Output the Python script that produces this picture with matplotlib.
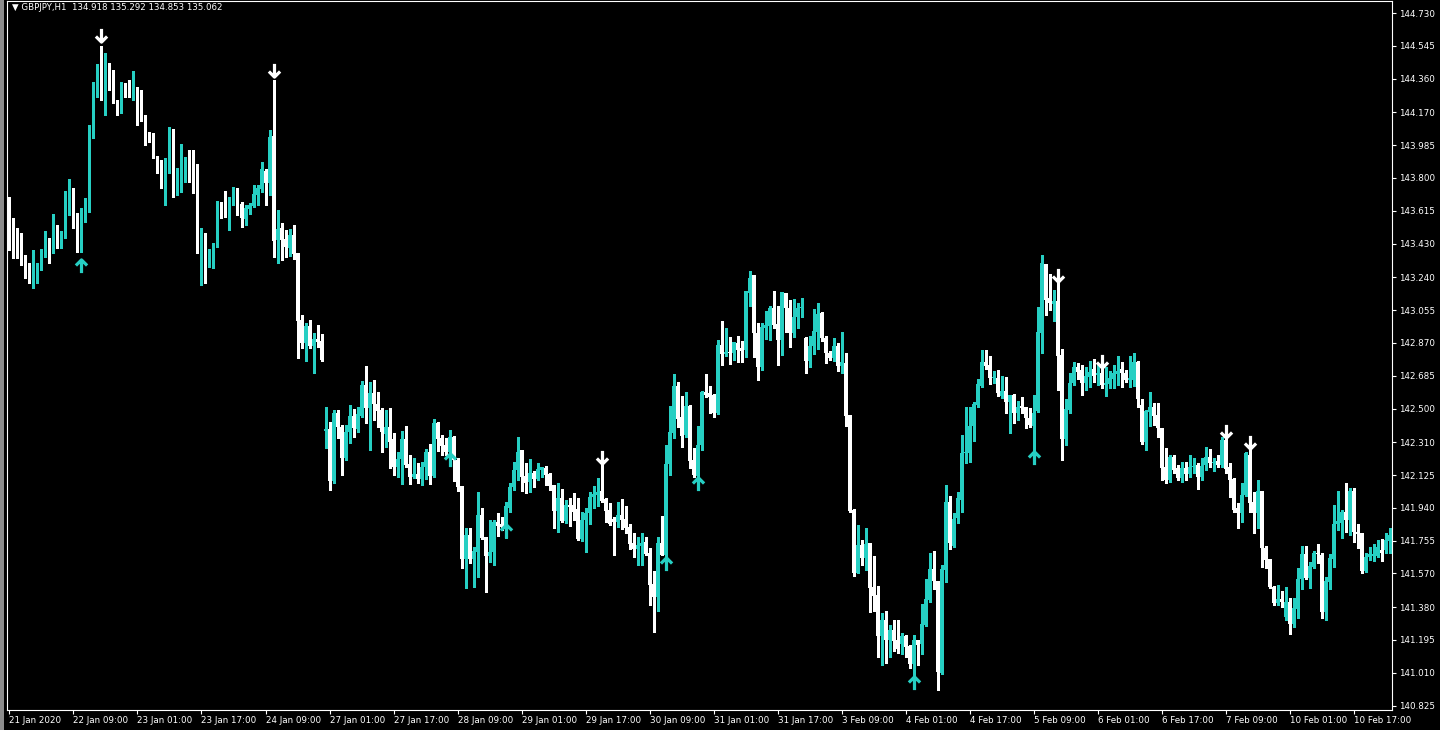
import matplotlib
matplotlib.use('Agg')
import matplotlib.pyplot as plt
from matplotlib.path import Path
from matplotlib.patches import Rectangle
import numpy as np

header_text = "GBPJPY,H1  134.918 135.292 134.853 135.062"

opens = [
143.648,143.496,143.439,143.383,143.327,143.264,143.225,143.281,143.304,143.371,
143.405,143.388,143.518,143.433,143.473,143.676,143.744,143.603,143.535,143.609,
143.631,144.026,144.285,144.364,144.223,144.421,144.370,144.229,144.173,144.314,
144.296,144.257,144.290,144.229,144.133,144.026,144.020,143.924,143.891,143.783,
143.896,144.076,143.772,143.822,143.874,143.891,143.811,143.778,143.473,143.484,
143.343,143.355,143.427,143.653,143.648,143.581,143.676,143.732,143.653,143.569,
143.625,143.642,143.704,143.738,143.839,143.772,144.037,143.450,143.518,143.456,
143.405,143.479,143.377,142.999,142.869,142.965,142.852,142.892,142.880,142.373,
142.384,142.091,142.475,142.396,142.221,142.368,142.458,142.384,142.458,142.633,
142.503,142.587,142.525,142.492,142.356,142.396,142.328,142.171,142.215,142.328,
142.187,142.114,142.130,142.102,142.171,142.255,142.119,142.418,142.334,142.294,
142.255,142.340,142.210,142.063,141.651,141.787,141.651,141.691,141.900,141.776,
141.668,141.691,141.860,141.848,141.832,141.939,142.058,142.153,142.266,142.119,
142.086,142.136,142.102,142.153,142.165,142.130,142.069,141.922,141.995,141.865,
141.956,141.956,141.933,141.764,141.871,141.911,142.001,142.012,142.034,141.989,
141.928,141.877,141.860,141.900,141.877,141.832,141.741,141.707,141.724,141.747,
141.685,141.510,141.437,141.741,141.674,142.187,142.362,142.627,142.453,142.351,
142.514,142.210,142.119,142.294,142.593,142.587,142.576,142.475,142.858,142.807,
142.819,142.813,142.869,142.841,142.830,143.151,143.253,142.926,142.735,142.954,
142.965,143.067,142.976,142.886,143.151,143.067,142.926,143.017,143.067,142.898,
142.768,142.852,142.932,143.039,142.898,142.813,142.785,142.852,142.740,142.757,
142.464,141.928,141.572,141.730,141.657,141.741,141.494,141.448,141.217,141.307,
141.194,141.251,141.194,141.171,141.217,141.160,141.059,141.194,141.171,141.279,
141.420,141.595,141.527,141.008,141.589,141.973,141.724,141.883,141.984,142.249,
142.249,142.401,142.520,142.627,142.763,142.746,142.672,142.672,142.570,142.598,
142.537,142.576,142.475,142.514,142.509,142.447,142.401,142.486,142.926,143.315,
143.123,143.089,143.106,142.802,142.328,142.492,142.644,142.735,142.717,142.644,
142.678,142.723,142.689,142.700,142.633,142.638,142.666,142.694,142.723,142.700,
142.661,142.661,142.763,142.520,142.311,142.481,142.509,142.464,142.390,142.171,
142.097,142.227,142.165,142.108,142.165,142.130,142.171,142.182,142.114,142.182,
142.227,142.193,142.204,142.182,142.322,142.171,142.102,141.939,141.911,142.012,
142.238,141.973,141.911,142.034,141.713,141.651,141.494,141.403,141.425,141.325,
141.409,141.284,141.369,141.538,141.679,141.544,141.607,141.685,141.674,141.353,
141.522,141.651,141.848,141.854,141.917,141.871,142.034,141.804,141.798,141.583,
141.663,141.668,141.668,141.702,141.702,141.752]

closes = [
143.496,143.433,143.383,143.327,143.264,143.225,143.281,143.304,143.371,143.405,
143.388,143.518,143.433,143.473,143.676,143.744,143.603,143.535,143.609,143.631,
144.026,144.285,144.364,144.240,144.421,144.370,144.229,144.173,144.314,144.296,
144.268,144.290,144.223,144.127,144.026,144.014,143.919,143.891,143.783,143.896,
144.076,143.772,143.822,143.874,143.891,143.806,143.772,143.473,143.490,143.343,
143.360,143.433,143.653,143.637,143.581,143.676,143.726,143.648,143.575,143.631,
143.648,143.709,143.744,143.851,143.772,144.032,143.444,143.512,143.450,143.411,
143.479,143.371,142.993,142.869,142.965,142.852,142.892,142.875,142.774,142.384,
142.091,142.475,142.396,142.221,142.368,142.458,142.390,142.469,142.633,142.503,
142.587,142.525,142.486,142.368,142.396,142.311,142.171,142.215,142.328,142.182,
142.114,142.130,142.102,142.171,142.255,142.119,142.418,142.328,142.288,142.255,
142.340,142.210,142.058,141.651,141.787,141.651,141.696,141.900,141.770,141.668,
141.691,141.860,141.837,141.832,141.950,142.058,142.153,142.255,142.114,142.080,
142.136,142.102,142.159,142.171,142.125,142.063,141.922,141.995,141.865,141.956,
141.945,141.917,141.764,141.871,141.911,142.001,142.017,142.029,141.978,141.922,
141.848,141.860,141.900,141.871,141.826,141.735,141.707,141.730,141.741,141.679,
141.505,141.437,141.741,141.674,142.187,142.368,142.627,142.441,142.345,142.514,
142.204,142.125,142.294,142.593,142.576,142.565,142.475,142.858,142.807,142.819,
142.813,142.875,142.830,142.824,143.162,143.236,142.926,142.735,142.960,142.971,
143.067,142.971,142.886,143.157,143.067,142.926,143.017,143.067,143.073,142.768,
142.852,142.937,143.033,142.898,142.813,142.785,142.852,142.740,142.763,142.458,
141.922,141.572,141.730,141.657,141.735,141.488,141.442,141.217,141.307,141.194,
141.251,141.188,141.143,141.217,141.155,141.059,141.194,141.166,141.284,141.425,
141.595,141.527,141.014,141.595,141.973,141.741,141.877,141.995,142.249,142.255,
142.401,142.525,142.638,142.763,142.740,142.672,142.678,142.587,142.598,142.537,
142.576,142.475,142.509,142.503,142.447,142.407,142.475,142.932,143.321,143.112,
143.095,143.106,142.796,142.328,142.497,142.644,142.735,142.706,142.644,142.683,
142.706,142.683,142.700,142.633,142.644,142.672,142.700,142.711,142.700,142.661,
142.672,142.763,142.553,142.311,142.486,142.509,142.458,142.390,142.165,142.097,
142.227,142.153,142.108,142.165,142.130,142.171,142.176,142.114,142.176,142.227,
142.193,142.199,142.182,142.322,142.159,142.097,141.928,141.911,142.012,142.249,
141.967,141.911,142.034,141.713,141.646,141.494,141.403,141.425,141.409,141.409,
141.284,141.375,141.538,141.679,141.544,141.612,141.685,141.679,141.353,141.527,
141.657,141.848,141.865,141.917,141.871,142.034,141.804,141.792,141.583,141.663,
141.679,141.679,141.719,141.685,141.758,141.787]

highs = [
143.693,143.575,143.518,143.490,143.366,143.321,143.394,143.321,143.399,143.501,
143.462,143.597,143.535,143.501,143.726,143.794,143.744,143.603,143.631,143.687,
144.099,144.342,144.443,144.544,144.505,144.449,144.409,144.240,144.342,144.336,
144.353,144.403,144.314,144.296,144.156,144.060,144.054,143.924,143.902,143.913,
144.088,144.076,143.857,143.991,143.919,143.958,143.958,143.879,143.518,143.490,
143.399,143.433,143.670,143.665,143.726,143.693,143.750,143.744,143.665,143.648,
143.659,143.761,143.761,143.891,143.851,144.071,144.353,143.620,143.546,143.507,
143.512,143.535,143.377,143.028,142.982,142.999,142.926,142.971,142.920,142.509,
142.424,142.492,142.492,142.407,142.407,142.520,142.497,142.509,142.655,142.740,
142.650,142.661,142.593,142.503,142.492,142.503,142.362,142.255,142.373,142.401,
142.238,142.221,142.193,142.199,142.271,142.299,142.441,142.424,142.351,142.334,
142.379,142.345,142.221,142.063,141.826,141.826,141.719,142.029,141.939,141.776,
141.871,141.871,141.911,141.889,141.973,142.080,142.199,142.340,142.266,142.193,
142.215,142.147,142.193,142.171,142.176,142.136,142.069,142.080,142.046,141.984,
141.995,142.023,141.995,141.917,141.939,142.029,142.063,142.108,142.193,141.995,
141.967,141.889,141.973,141.989,141.950,141.848,141.798,141.776,141.798,141.776,
141.713,141.583,141.776,141.894,142.294,142.514,142.694,142.650,142.570,142.593,
142.520,142.277,142.401,142.598,142.694,142.627,142.581,142.886,142.993,142.954,
142.904,142.875,142.909,142.880,143.162,143.275,143.253,142.982,142.982,143.050,
143.078,143.162,143.078,143.157,143.151,143.112,143.117,143.095,143.123,142.904,
142.909,143.061,143.095,143.045,142.909,142.824,142.898,142.869,142.932,142.813,
142.464,141.933,141.843,141.758,141.826,141.741,141.668,141.499,141.347,141.358,
141.279,141.307,141.307,141.234,141.223,141.166,141.223,141.194,141.397,141.538,
141.685,141.696,141.527,141.618,142.069,142.006,141.911,142.029,142.351,142.509,
142.509,142.537,142.666,142.830,142.830,142.796,142.711,142.717,142.683,142.678,
142.576,142.581,142.542,142.565,142.509,142.503,142.576,143.073,143.366,143.315,
143.258,143.168,143.208,142.835,142.553,142.700,142.763,142.757,142.746,142.735,
142.768,142.779,142.757,142.729,142.735,142.711,142.746,142.796,142.763,142.717,
142.796,142.813,142.768,142.553,142.492,142.593,142.531,142.531,142.390,142.277,
142.238,142.238,142.182,142.199,142.199,142.238,142.221,142.193,142.221,142.283,
142.271,142.221,142.238,142.340,142.379,142.193,142.108,141.967,142.080,142.255,
142.277,142.029,142.097,142.034,141.724,141.651,141.499,141.505,141.470,141.494,
141.431,141.431,141.601,141.724,141.724,141.635,141.696,141.735,141.685,141.550,
141.679,141.956,142.034,141.928,142.080,142.052,142.052,141.848,141.798,141.685,
141.719,141.735,141.758,141.764,141.798,141.826]

lows = [
143.394,143.349,143.349,143.310,143.236,143.208,143.180,143.208,143.281,143.355,
143.321,143.377,143.405,143.405,143.462,143.592,143.518,143.383,143.383,143.552,
143.609,144.026,144.257,144.240,144.156,144.296,144.223,144.156,144.167,144.257,
144.257,144.240,144.099,144.121,143.986,144.003,143.913,143.828,143.744,143.648,
143.828,143.693,143.704,143.721,143.778,143.778,143.715,143.377,143.197,143.208,
143.299,143.293,143.411,143.575,143.581,143.507,143.648,143.592,143.524,143.535,
143.597,143.637,143.648,143.721,143.648,143.704,143.355,143.321,143.338,143.355,
143.360,143.343,142.785,142.841,142.768,142.841,142.700,142.847,142.768,142.277,
142.040,142.080,142.334,142.125,142.210,142.305,142.340,142.368,142.453,142.418,
142.266,142.435,142.396,142.255,142.283,142.165,142.125,142.114,142.074,142.171,
142.074,142.108,142.080,142.069,142.102,142.074,142.114,142.260,142.238,142.238,
142.238,142.091,142.034,141.601,141.488,141.629,141.494,141.550,141.764,141.465,
141.635,141.618,141.781,141.815,141.770,141.917,142.040,142.097,142.034,142.023,
142.029,142.058,142.097,142.114,142.069,142.040,141.826,141.804,141.860,141.854,
141.837,141.871,141.758,141.752,141.691,141.848,141.939,141.950,141.973,141.860,
141.843,141.674,141.832,141.820,141.798,141.707,141.663,141.618,141.618,141.674,
141.392,141.240,141.358,141.674,141.668,142.125,142.334,142.396,142.283,142.340,
142.165,142.114,142.119,142.266,142.565,142.475,142.453,142.469,142.746,142.796,
142.751,142.774,142.763,142.763,142.791,143.078,142.791,142.661,142.717,142.892,
142.886,142.954,142.746,142.802,142.932,142.847,142.904,142.954,143.017,142.700,
142.735,142.807,142.835,142.880,142.757,142.774,142.768,142.711,142.700,142.401,
141.917,141.555,141.572,141.618,141.589,141.353,141.358,141.099,141.054,141.065,
141.099,141.132,141.121,141.115,141.099,141.037,140.986,141.054,141.115,141.273,
141.409,141.482,140.912,141.002,141.522,141.707,141.719,141.854,141.917,142.193,
142.199,142.316,142.509,142.622,142.723,142.638,142.644,142.570,142.559,142.475,
142.362,142.418,142.435,142.475,142.390,142.396,142.255,142.481,142.813,143.028,
143.056,142.993,142.604,142.210,142.294,142.475,142.633,142.666,142.576,142.604,
142.622,142.650,142.633,142.616,142.570,142.616,142.616,142.633,142.622,142.650,
142.622,142.627,142.509,142.299,142.266,142.401,142.407,142.340,142.097,142.080,
142.086,142.136,142.097,142.086,142.097,142.114,142.136,142.046,142.097,142.153,
142.171,142.147,142.171,142.171,142.136,142.001,141.917,141.826,141.860,142.006,
141.917,141.798,141.826,141.607,141.601,141.488,141.392,141.392,141.381,141.307,
141.228,141.268,141.319,141.482,141.538,141.488,141.601,141.629,141.319,141.307,
141.482,141.607,141.815,141.770,141.804,141.787,141.747,141.713,141.572,141.578,
141.646,141.640,141.663,141.640,141.685,141.685]

down_arrow_bars = [23, 66, 148, 262, 273, 304, 310]
down_arrow_prices = [144.607, 144.409, 142.227, 143.253, 142.768, 142.373, 142.311]
up_arrow_bars = [18, 110, 124, 164, 172, 226, 256]
up_arrow_prices = [143.304, 142.210, 141.809, 141.623, 142.074, 140.952, 142.221]

price_ticks = [144.730, 144.545, 144.360, 144.170, 143.985, 143.800, 143.615, 143.430,
               143.240, 143.055, 142.870, 142.685, 142.500, 142.310, 142.125, 141.940,
               141.755, 141.570, 141.380, 141.195, 141.010, 140.825]

time_tick_bars = [0, 16, 32, 48, 64, 80, 96, 112, 128, 144, 160, 176, 192, 208,
                  224, 240, 256, 272, 288, 304, 320, 336]
time_tick_labels = ["21 Jan 2020", "22 Jan 09:00", "23 Jan 01:00", "23 Jan 17:00",
                    "24 Jan 09:00", "27 Jan 01:00", "27 Jan 17:00", "28 Jan 09:00",
                    "29 Jan 01:00", "29 Jan 17:00", "30 Jan 09:00", "31 Jan 01:00",
                    "31 Jan 17:00", "3 Feb 09:00", "4 Feb 01:00", "4 Feb 17:00",
                    "5 Feb 09:00", "6 Feb 01:00", "6 Feb 17:00", "7 Feb 09:00",
                    "10 Feb 01:00", "10 Feb 17:00"]

BULL = '#26CFC3'
BEAR = '#FFFFFF'
BG = '#000000'
FG = '#FFFFFF'

W, H = 1440, 730
fig = plt.figure(figsize=(W / 100, H / 100), dpi=100, facecolor=BG)
# window edge strip on the far left
fig.patches.append(Rectangle((0, 0), 4 / W, 1, transform=fig.transFigure,
                             facecolor='#8c8c8c', edgecolor='none', zorder=0))
ax = fig.add_axes([7 / W, 20 / H, 1385 / W, 709 / H])
ax.set_facecolor(BG)

o = np.array(opens)
c = np.array(closes)
hi = np.array(highs)
lo = np.array(lows)
x = np.arange(len(c))
bull = c > o
colors = np.where(bull, BULL, BEAR)

ax.vlines(x, lo, hi, colors=colors, linewidth=0.9, antialiased=False, zorder=2)
body_bottom = np.minimum(o, c)
body_height = np.maximum(np.abs(c - o), 0.0055)
ax.bar(x, body_height, width=0.78, bottom=body_bottom, color=colors,
       linewidth=0, antialiased=False, zorder=3)

down_path = Path([(0, 1), (0, -1), (-0.85, -0.15), (0, -1), (0.85, -0.15)],
                 [Path.MOVETO, Path.LINETO, Path.MOVETO, Path.LINETO, Path.LINETO])
up_path = Path([(0, -1), (0, 1), (-0.85, 0.15), (0, 1), (0.85, 0.15)],
               [Path.MOVETO, Path.LINETO, Path.MOVETO, Path.LINETO, Path.LINETO])
ax.plot(down_arrow_bars, down_arrow_prices, linestyle='none', marker=down_path,
        markersize=9.5, markeredgewidth=2.3, markeredgecolor=FG,
        markerfacecolor='none', zorder=4)
ax.plot(up_arrow_bars, up_arrow_prices, linestyle='none', marker=up_path,
        markersize=9.5, markeredgewidth=2.3, markeredgecolor=BULL,
        markerfacecolor='none', zorder=4)

ax.set_xlim(-0.62, 345.6)
ax.set_ylim(140.800, 144.798)

for s in ax.spines.values():
    s.set_color(FG)
    s.set_linewidth(0.8)

ax.yaxis.tick_right()
ax.set_yticks(price_ticks)
ax.set_yticklabels([f"{v:.3f}" for v in price_ticks])
ax.tick_params(axis='y', colors=FG, labelsize=6.3, length=3, width=0.8, pad=2,
               direction='out')

ax.set_xticks(time_tick_bars)
ax.set_xticklabels(time_tick_labels)
ax.tick_params(axis='x', colors=FG, labelsize=6.3, length=3, width=0.8, pad=1,
               direction='out')
for lab in ax.get_xticklabels():
    lab.set_horizontalalignment('left')

fig.text(12 / W, 1 - 8 / H, "\u25BC " + header_text, color=FG, fontsize=6.2,
         va='center', ha='left')

fig.savefig('out.png', dpi=100, facecolor=BG)
